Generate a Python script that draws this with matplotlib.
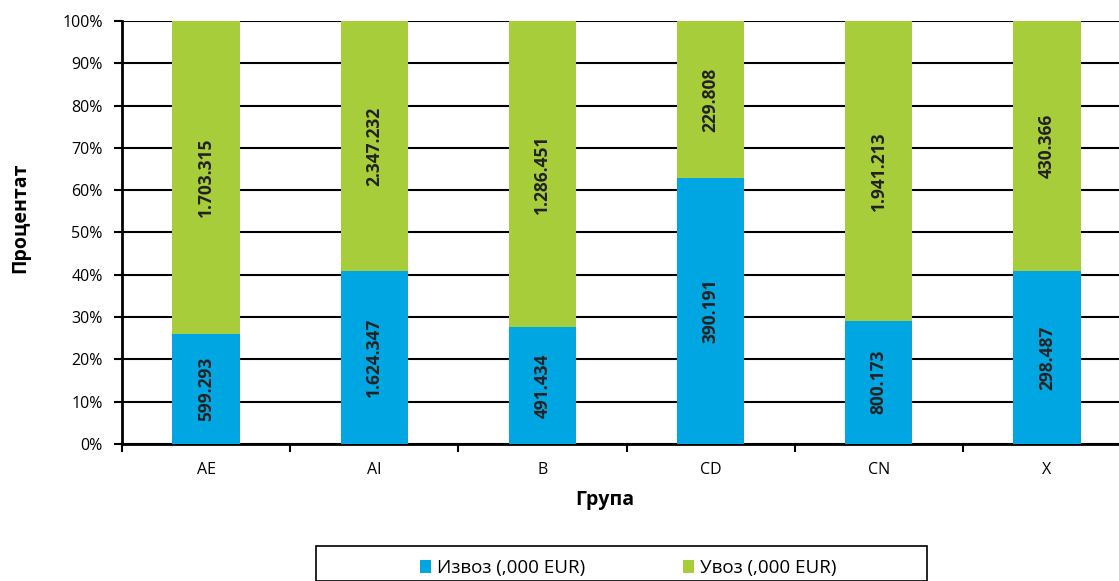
import matplotlib
matplotlib.use("Agg")
import matplotlib.pyplot as plt
from matplotlib.patches import Rectangle
import numpy as np

categories = ["AE", "AI", "B", "CD", "CN", "X"]
export_vals = [599.293, 1624.347, 491.434, 390.191, 800.173, 298.487]
import_vals = [1703.315, 2347.232, 1286.451, 229.808, 1941.213, 430.366]
export_labels = ["599.293", "1.624.347", "491.434", "390.191", "800.173", "298.487"]
import_labels = ["1.703.315", "2.347.232", "1.286.451", "229.808", "1.941.213", "430.366"]
series_names = ["Извоз (,000 EUR)", "Увоз (,000 EUR)"]
y_ticks = [0, 10, 20, 30, 40, 50, 60, 70, 80, 90, 100]

plt.rcParams['font.family'] = ['Open Sans', 'DejaVu Sans']

blue = "#00A6E2"
green = "#A8CD3A"

fig = plt.figure(figsize=(11.19, 5.81), dpi=100)
ax = fig.add_axes([122/1119, (581-444)/581, (1131-122)/1119, (444-21)/581])

exp = np.array(export_vals)
imp = np.array(import_vals)
tot = exp + imp
exp_pct = exp / tot * 100
imp_pct = imp / tot * 100
x = np.arange(len(categories))
w = 0.4

ax.bar(x, exp_pct, width=w, color=blue, label=series_names[0], zorder=3)
ax.bar(x, imp_pct, width=w, bottom=exp_pct, color=green, label=series_names[1], zorder=3)

for i in range(len(categories)):
    ax.text(x[i], exp_pct[i] / 2, export_labels[i], rotation=90, ha="center", va="center",
            fontsize=12.5, fontweight="bold", color="#222222", zorder=4)
    ax.text(x[i], exp_pct[i] + imp_pct[i] / 2, import_labels[i], rotation=90, ha="center", va="center",
            fontsize=12.5, fontweight="bold", color="#222222", zorder=4)

ax.set_xlim(-0.5, len(categories) - 0.5)
ax.set_ylim(0, 100)
ax.set_yticks(y_ticks)
ax.set_yticklabels([f"{t}%" for t in y_ticks], fontsize=11.5)
ax.set_xticks(x)
ax.set_xticklabels(categories, fontsize=11.5)
ax.set_xticks(np.arange(-0.5, len(categories), 1.0), minor=True)
ax.tick_params(axis="x", which="major", length=0, pad=13)
ax.tick_params(axis="x", which="minor", length=6, width=1.5, direction="out")
ax.tick_params(axis="y", length=6, width=1.5, direction="out", pad=8)

ax.grid(axis="y", color="black", linewidth=1.5, zorder=0)
for s in ["top", "right"]:
    ax.spines[s].set_visible(False)
ax.spines["left"].set_linewidth(2)
ax.spines["bottom"].set_linewidth(2)

fig.text(20/1119, 1 - 218/581, "Процентат", rotation=90, ha="center", va="center",
         fontsize=14, fontweight="bold")
fig.text(605/1119, 1 - 500/581, "Група", ha="center", va="center",
         fontsize=14, fontweight="bold")

handles, labels = ax.get_legend_handles_labels()
leg = fig.legend(handles, labels, loc="center", bbox_to_anchor=(628/1119, 1 - 568/581),
                 ncol=2, frameon=False, fontsize=13.5, handlelength=0.6, handleheight=0.7,
                 handletextpad=0.3, columnspacing=5.2)
fig.patches.append(Rectangle((316/1119, 0), (927-316)/1119, (581-546)/581, transform=fig.transFigure,
                             fill=False, edgecolor="black", linewidth=1.2))

fig.savefig("out.png", dpi=100)
